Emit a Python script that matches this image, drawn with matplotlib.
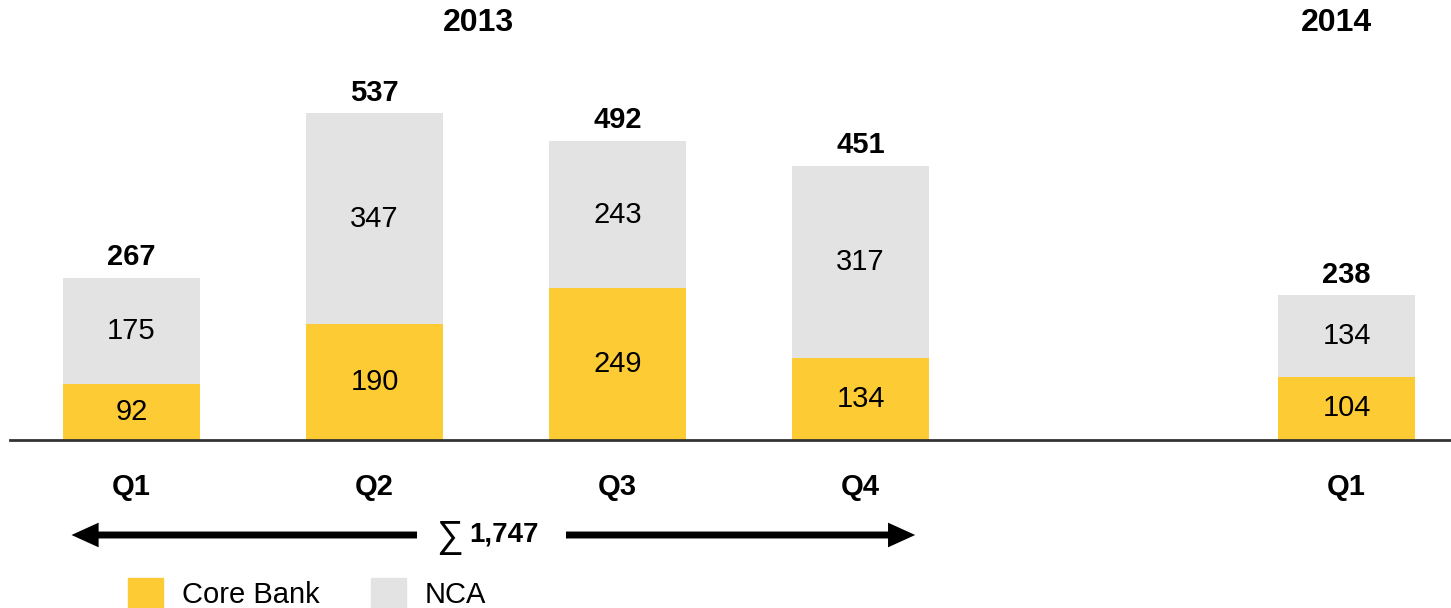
import matplotlib
matplotlib.use('Agg')
from matplotlib import pyplot as plt
from matplotlib.patches import Patch

plt.rcParams['font.family'] = ['Liberation Sans', 'DejaVu Sans']

quarters = ['Q1', 'Q2', 'Q3', 'Q4', 'Q1']
positions = [0, 1, 2, 3, 5]
core_bank = [92, 190, 249, 134, 104]
nca = [175, 347, 243, 317, 134]
totals = [267, 537, 492, 451, 238]
sum_2013 = '1,747'

yellow = '#FDCB33'
grey = '#E3E3E3'

fig = plt.figure(figsize=(14.51, 6.08), dpi=100)
ax = fig.add_axes([0, 0, 1, 1])
ax.set_xlim(-131.5 / 243, (1451 - 131.5) / 243)
ax.set_ylim(-(608 - 440) / 0.6085, 440 / 0.6085)
ax.axis('off')

w = 137 / 243
ax.bar(positions, core_bank, width=w, color=yellow, label='Core Bank')
ax.bar(positions, nca, width=w, bottom=core_bank, color=grey, label='NCA')
ax.axhline(0, xmin=10 / 1451, xmax=1, color='#333333', lw=2)

fs = 21
for p, c, n, t, q in zip(positions, core_bank, nca, totals, quarters):
    ax.text(p, c / 2, str(c), ha='center', va='center', fontsize=fs)
    ax.text(p, c + n / 2, str(n), ha='center', va='center', fontsize=fs)
    ax.annotate(str(t), (p, t), xytext=(0, 9), textcoords='offset points',
                ha='center', va='baseline', fontsize=fs, fontweight='bold')
    ax.annotate(q, (p, 0), xytext=(0, -34), textcoords='offset points',
                ha='center', va='center', fontsize=fs, fontweight='bold')

# years
trans = ax.get_xaxis_transform()
ax.text(1.426, 1 - 23 / 608, '2013', transform=trans, ha='center', va='center',
        fontsize=23, fontweight='bold')
ax.text(4.96, 1 - 23 / 608, '2014', transform=trans, ha='center', va='center',
        fontsize=23, fontweight='bold')

# sum arrow for 2013
ya = (440 - 535) / 0.6085
arr = dict(arrowstyle='-|>,head_length=0.55,head_width=0.25', lw=5, color='black',
           shrinkA=0, shrinkB=0, mutation_scale=20, capstyle='butt',
           joinstyle='miter')
ax.annotate('', xy=(-0.247, ya), xytext=(1.175, ya), arrowprops=arr)
ax.annotate('', xy=(3.225, ya), xytext=(1.788, ya), arrowprops=arr)
ax.text(1.307, ya - 4, '\u2211', ha='center', va='center', fontsize=27)
ax.text(1.533, ya, sum_2013, ha='center', va='center', fontsize=20,
        fontweight='bold')

handles = [Patch(color=yellow), Patch(color=grey)]
ax.legend(handles, ['Core Bank', 'NCA'], loc='upper left',
          bbox_to_anchor=(128 / 1451, 1 - 578 / 608), bbox_transform=fig.transFigure,
          ncol=2, frameon=False, fontsize=fs, handlelength=1.2, handleheight=1.2,
          handletextpad=0.65, columnspacing=1.75, borderpad=0, borderaxespad=0)

fig.savefig('out.png', dpi=100)
